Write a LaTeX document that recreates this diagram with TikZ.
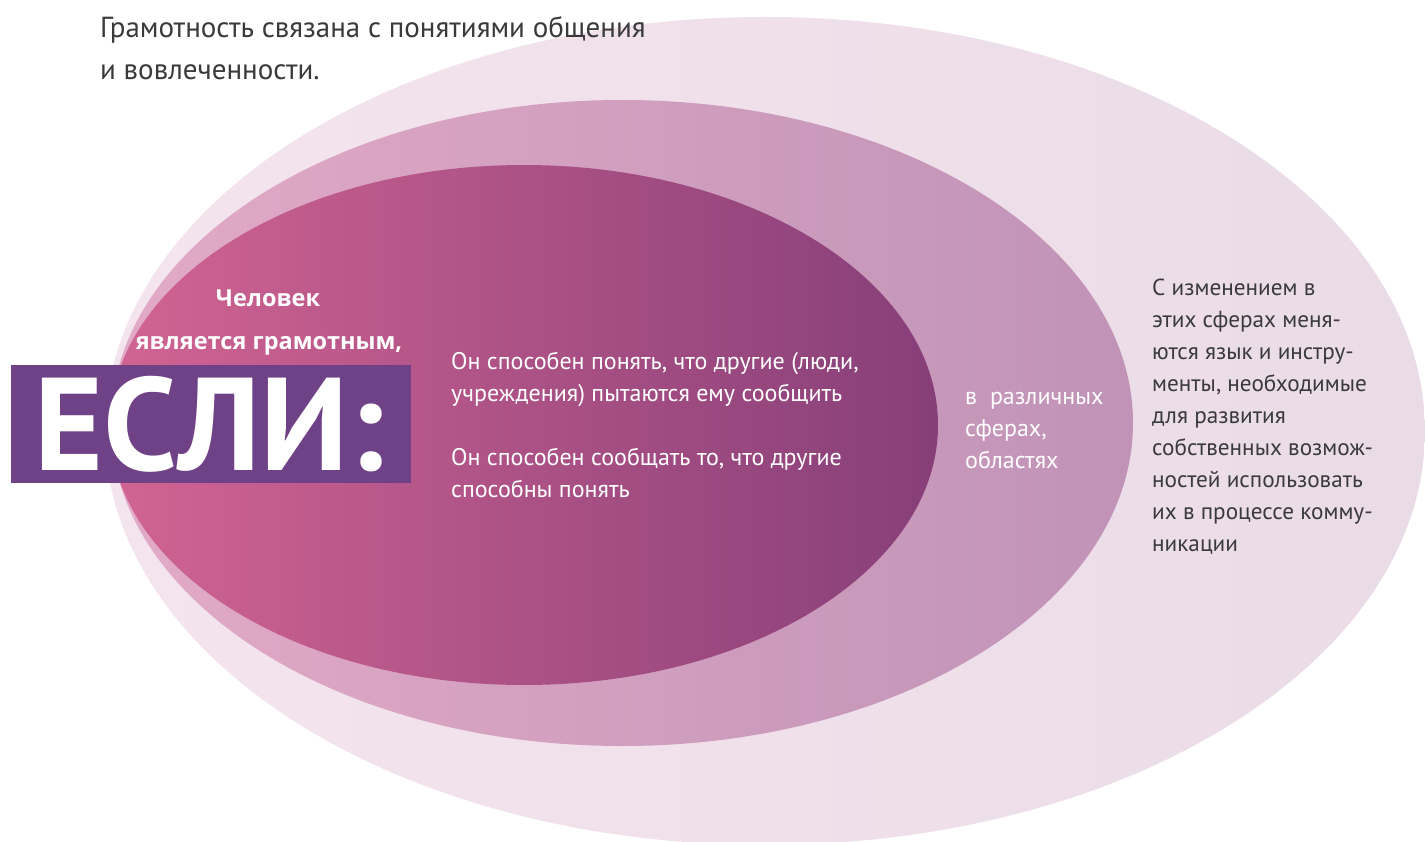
\documentclass[tikz,border=0pt]{standalone}
\usepackage{fontspec}
\setmainfont{PT Sans}
\newfontfamily\headfont{Open Sans}
\definecolor{outerL}{HTML}{F4E4ED}
\definecolor{outerR}{HTML}{EADCE7}
\definecolor{midL}{HTML}{E2AAC6}
\definecolor{midR}{HTML}{C093B7}
\definecolor{innL}{HTML}{D16492}
\definecolor{innR}{HTML}{873F79}
\definecolor{boxcol}{HTML}{6F4186}
\definecolor{darktext}{HTML}{3A3A3A}
\tikzset{
  bodytext/.style={anchor=base west, inner sep=0pt, align=left, font=\fontsize{24}{32}\selectfont},
  whitetext/.style={bodytext, text=white},
  greytext/.style={bodytext, text=darktext},
  headtext/.style={anchor=base, inner sep=0pt, text=white, font=\headfont\fontsize{23.5}{28}\bfseries\selectfont},
}
\begin{document}
\begin{tikzpicture}[x=1pt,y=-1pt]
\useasboundingbox (0,0) rectangle (1425,842);
\clip (0,0) rectangle (1425,842);
\fill[white] (0,0) rectangle (1425,842);
% ellipses
\shade[left color=outerL,right color=outerR] (765,431) ellipse [x radius=660, y radius=414];
\shade[left color=midL,right color=midR] (622,423) ellipse [x radius=511, y radius=323];
\shade[left color=innL,right color=innR] (524,425) ellipse [x radius=414, y radius=260];
% top text (baseline of last line)
\node[greytext, font=\fontsize{29}{42}\selectfont] (intro) at (100,80)
  {Грамотность связана с понятиями общения\\и вовлеченности.};
% header
\node[headtext] (chel) at (268,307) {Человек};
\node[headtext] (yavl) at (269,350) {является грамотным,};
% ЕСЛИ box
\node[fill=boxcol, anchor=north west, minimum width=400pt, minimum height=118pt, inner sep=0pt,
      text=white, font=\fontsize{132}{132}\bfseries\selectfont] (esli) at (11,365) {\hspace{-4pt}ЕСЛИ:};
% inner texts (baseline of last line)
\node[whitetext] (t1) at (451,401) {Он способен понять, что другие (люди,\\учреждения) пытаются ему сообщить};
\node[whitetext] (t2) at (451,497) {Он способен сообщать то, что другие\\способны понять};
\node[whitetext] (t3) at (965,468) {в\ \ различных\\сферах,\\областях};
% right text
\node[greytext, font=\fontsize{23.2}{32}\selectfont] (t4) at (1152,551) {С изменением в\\этих сферах меня-\\ются язык и инстру-\\менты, необходимые\\для развития\\собственных возмож-\\ностей использовать\\их в процессе комму-\\никации};
\end{tikzpicture}
\end{document}
